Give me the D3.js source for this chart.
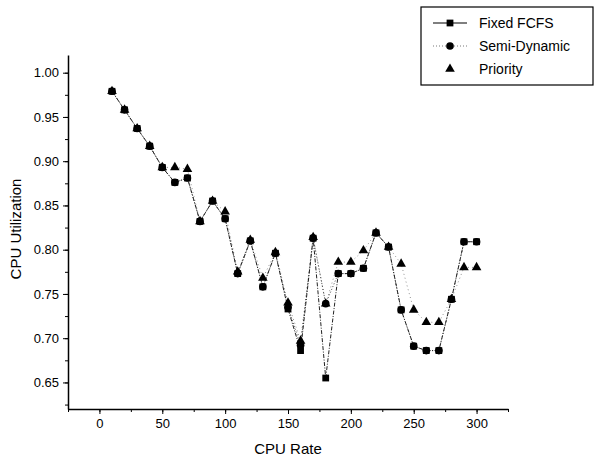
<!DOCTYPE html>
<html>
<head>
<meta charset="utf-8">
<script src="https://cdn.jsdelivr.net/npm/d3@7"></script>
<style>
  body { margin: 0; background: #fff; }
  svg { font-family: "Liberation Sans", Arial, sans-serif; }
  .axis path, .axis line { stroke: #000; }
</style>
</head>
<body>
<svg id="chart" width="595" height="463"></svg>
<script>
// CPU rate (x) and utilisation for each scheduling policy
var cpuRate = [10, 20, 30, 40, 50, 60, 70, 80, 90, 100, 110, 120, 130, 140, 150,
               160, 170, 180, 190, 200, 210, 220, 230, 240, 250, 260, 270, 280, 290, 300]
var fixedFCFS = [0.979, 0.958, 0.937, 0.917, 0.893, 0.876, 0.881, 0.832, 0.855, 0.835,
                 0.773, 0.810, 0.758, 0.796, 0.733, 0.686, 0.813, 0.655, 0.773, 0.773,
                 0.779, 0.819, 0.803, 0.732, 0.691, 0.686, 0.686, 0.744, 0.809, 0.809]
var semiDynamic = [0.979, 0.958, 0.937, 0.917, 0.893, 0.876, 0.881, 0.832, 0.855, 0.835,
                   0.773, 0.810, 0.758, 0.796, 0.735, 0.692, 0.813, 0.739, 0.773, 0.773,
                   0.779, 0.819, 0.803, 0.732, 0.691, 0.686, 0.686, 0.744, 0.809, 0.809]
var priority = [0.979, 0.958, 0.937, 0.917, 0.893, 0.893, 0.891, 0.832, 0.855, 0.843,
                0.775, 0.811, 0.768, 0.797, 0.740, 0.697, 0.814, 0.739, 0.786, 0.786,
                0.799, 0.819, 0.803, 0.784, 0.732, 0.718, 0.718, 0.744, 0.780, 0.780]
var xTicks = [0, 50, 100, 150, 200, 250, 300]
var yTicks = [0.65, 0.70, 0.75, 0.80, 0.85, 0.90, 0.95, 1.00]
var seriesNames = ["Fixed FCFS", "Semi-Dynamic", "Priority"]

var margin = {left: 68, top: 55, right: 87, bottom: 54}
var width = 595 - margin.left - margin.right
var height = 463 - margin.top - margin.bottom

var svg = d3.select("#chart")
var g = svg.append("g")
    .attr("transform", "translate(" + margin.left + "," + margin.top + ")")

var xScale = d3.scaleLinear().domain([-25, 325]).range([0, width])
var yScale = d3.scaleLinear().domain([0.62, 1.02]).range([height, 0])

// minor ticks first
g.append("g")
    .attr("class", "axis")
    .attr("transform", "translate(0," + height + ")")
    .call(d3.axisBottom(xScale).tickValues(d3.range(-25, 326, 25)).tickSize(3).tickFormat(""))
    .call(function (a) { a.select(".domain").remove() })
g.append("g")
    .attr("class", "axis")
    .call(d3.axisLeft(yScale).tickValues(d3.range(0.625, 1.02, 0.025)).tickSize(3).tickFormat(""))
    .call(function (a) { a.select(".domain").remove() })

var xAxis = g.append("g")
    .attr("class", "axis")
    .attr("transform", "translate(0," + height + ")")
    .call(d3.axisBottom(xScale).tickValues(xTicks).tickSize(5).tickSizeOuter(0).tickPadding(5))
xAxis.select(".domain").attr("stroke-width", 1.5)
xAxis.selectAll("text").style("font-size", "13px").attr("fill", "#000")

var yAxis = g.append("g")
    .attr("class", "axis")
    .call(d3.axisLeft(yScale).tickValues(yTicks).tickSize(5).tickSizeOuter(0).tickPadding(4)
        .tickFormat(d3.format(".2f")))
yAxis.select(".domain").attr("stroke-width", 1.5)
yAxis.selectAll("text").style("font-size", "13px").attr("fill", "#000")

g.append("text")
    .attr("x", width / 2)
    .attr("y", height + 45)
    .attr("text-anchor", "middle")
    .style("font-size", "15px")
    .text("CPU Rate")

g.append("text")
    .attr("transform", "rotate(-90)")
    .attr("x", -(height / 2) + 3)
    .attr("y", -47)
    .attr("text-anchor", "middle")
    .style("font-size", "15px")
    .text("CPU Utilization")

function makeLine(values) {
    return d3.line()
        .x(function (d, i) { return xScale(cpuRate[i]) })
        .y(function (d) { return yScale(d) })(values)
}

g.append("path")
    .attr("d", makeLine(priority))
    .attr("fill", "none")
    .attr("stroke", "#777")
    .attr("stroke-width", 0.8)
    .attr("stroke-dasharray", "1,3")
g.append("path")
    .attr("d", makeLine(semiDynamic))
    .attr("fill", "none")
    .attr("stroke", "#333")
    .attr("stroke-width", 0.9)
    .attr("stroke-dasharray", "1,2")
g.append("path")
    .attr("d", makeLine(fixedFCFS))
    .attr("fill", "none")
    .attr("stroke", "#222")
    .attr("stroke-width", 1)
    .attr("stroke-dasharray", "4,1.5,1,1.5")

var sq = d3.symbol().type(d3.symbolSquare).size(46)
var ci = d3.symbol().type(d3.symbolCircle).size(46)
var tr = d3.symbol().type(d3.symbolTriangle).size(40)

g.selectAll(".tri").data(priority).enter().append("path")
    .attr("class", "tri")
    .attr("d", tr)
    .attr("transform", function (d, i) { return "translate(" + xScale(cpuRate[i]) + "," + yScale(d) + ")" })
g.selectAll(".cir").data(semiDynamic).enter().append("path")
    .attr("class", "cir")
    .attr("d", ci)
    .attr("transform", function (d, i) { return "translate(" + xScale(cpuRate[i]) + "," + yScale(d) + ")" })
g.selectAll(".sq").data(fixedFCFS).enter().append("path")
    .attr("class", "sq")
    .attr("d", sq)
    .attr("transform", function (d, i) { return "translate(" + xScale(cpuRate[i]) + "," + yScale(d) + ")" })

// legend
var legend = svg.append("g").attr("transform", "translate(421,7)")
legend.append("rect")
    .attr("width", 172)
    .attr("height", 78)
    .attr("fill", "#fff")
    .attr("stroke", "#000")
    .attr("stroke-width", 1.2)
var symbols = [sq, ci, tr]
seriesNames.forEach(function (name, i) {
    var row = legend.append("g").attr("transform", "translate(0," + (16 + i * 23) + ")")
    if (i == 0) {
        row.append("line").attr("x1", 12).attr("x2", 46).attr("stroke", "#000").attr("stroke-width", 1.2)
    } else if (i == 1) {
        row.append("line").attr("x1", 12).attr("x2", 46).attr("stroke", "#555")
            .attr("stroke-width", 0.8).attr("stroke-dasharray", "1,2")
    }
    row.append("path").attr("d", symbols[i]).attr("transform", "translate(29,0)")
    row.append("text")
        .attr("x", 58)
        .attr("y", 5)
        .style("font-size", "14px")
        .text(name)
})
</script>
</body>
</html>
